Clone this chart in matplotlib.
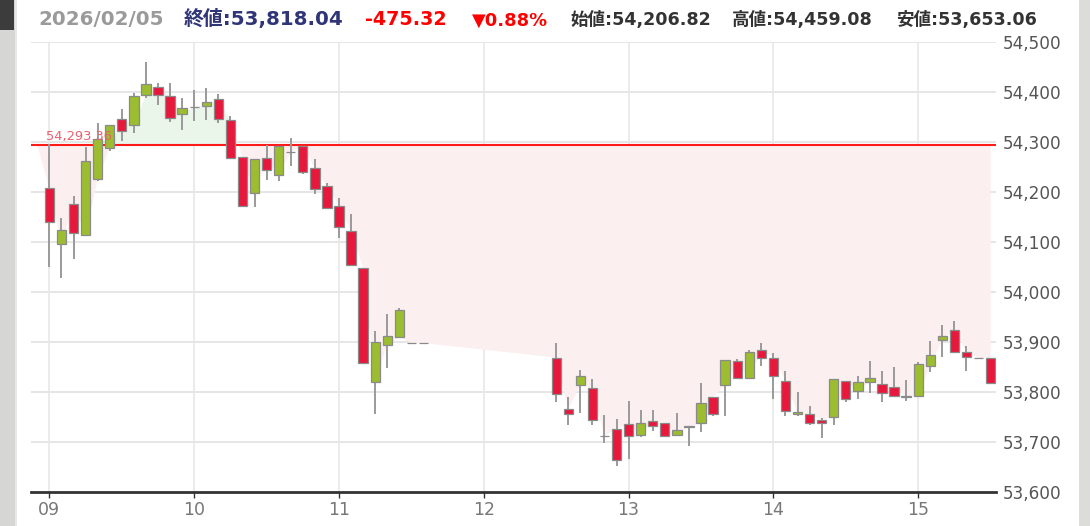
import matplotlib
matplotlib.use("Agg")
import matplotlib.pyplot as plt
from matplotlib.patches import Rectangle
from matplotlib.ticker import FuncFormatter

# ---------------- data ----------------
# minutes after 09:00 for each 5-minute candle
times = list(range(0, 150, 5)) + [150, 155] + list(range(210, 395, 5))

opens = [54206.82, 54096, 54175, 54114, 54225, 54288, 54345, 54333, 54393, 54409,
         54391, 54355, 54369, 54372, 54385, 54343, 54270, 54198, 54267, 54234,
         54279, 54291, 54247, 54211, 54172, 54121, 54048, 53820, 53895, 53910,
         53898, 53898,
         53869, 53767, 53814, 53809, 53712, 53727, 53737, 53715, 53743, 53739,
         53715, 53730, 53739, 53791, 53814, 53863, 53829, 53884, 53869, 53823,
         53757, 53757, 53745, 53751, 53823, 53803, 53821, 53817, 53811, 53790,
         53793, 53853, 53904, 53925, 53881, 53868, 53869]
highs = [54295, 54148, 54191, 54290, 54338, 54334, 54366, 54398, 54459.08, 54418,
         54418, 54388, 54403, 54407, 54395, 54352, 54270, 54265, 54293, 54292,
         54307, 54291, 54265, 54217, 54188, 54155, 54048, 53923, 53956, 53968,
         53898, 53898,
         53899, 53791, 53845, 53827, 53755, 53747, 53783, 53765, 53765, 53739,
         53759, 53733, 53819, 53791, 53865, 53867, 53885, 53899, 53879, 53843,
         53801, 53773, 53749, 53826, 53823, 53833, 53863, 53842, 53851, 53824,
         53860, 53902, 53935, 53943, 53893, 53868, 53869]
lows = [54050, 54029, 54065, 54112, 54221, 54281, 54302, 54317, 54388, 54374,
        54340, 54323, 54341, 54344, 54338, 54267, 54171, 54170, 54224, 54221,
        54251, 54236, 54195, 54165, 54108, 54053, 53859, 53757, 53849, 53910,
        53898, 53898,
        53780, 53735, 53759, 53735, 53699, 53653.06, 53667, 53710, 53723, 53712,
        53715, 53693, 53720, 53753, 53753, 53829, 53829, 53853, 53786, 53752,
        53752, 53734, 53708, 53735, 53781, 53786, 53798, 53780, 53790, 53783,
        53793, 53840, 53871, 53880, 53843, 53868, 53818.04]
closes = [54140, 54123, 54117, 54261, 54305, 54334, 54321, 54391, 54415, 54393,
          54348, 54367, 54370, 54379, 54345, 54267, 54171, 54265, 54243, 54291,
          54279, 54239, 54205, 54167, 54129, 54053, 53859, 53901, 53913, 53965,
          53898, 53898,
          53796, 53757, 53833, 53745, 53712, 53664, 53712, 53739, 53733, 53712,
          53725, 53733, 53779, 53757, 53865, 53829, 53881, 53869, 53832, 53763,
          53761, 53739, 53739, 53826, 53787, 53821, 53829, 53799, 53793, 53793,
          53857, 53875, 53913, 53880, 53871, 53868, 53818.04]

prev_close = 54293.36
hour_ticks = [0, 60, 120, 180, 240, 300, 360]
hour_labels = ["09", "10", "11", "12", "13", "14", "15"]
y_ticks = list(range(53600, 54501, 100))

header_date = "2026/02/05"
header_close = "終値:53,818.04"
header_change = "-475.32"
header_pct = "▼0.88%"
header_open = "始値:54,206.82"
header_high = "高値:54,459.08"
header_low = "安値:53,653.06"

# ---------------- figure ----------------
W, H = 1090, 526
fig = plt.figure(figsize=(W / 100, H / 100), dpi=100)
fig.patch.set_facecolor("white")

# side strips (screenshot surroundings)
fig.patches.append(Rectangle((0, 0), 15 / W, 1, transform=fig.transFigure,
                             facecolor="#d6d6d4", edgecolor="none", zorder=0))
fig.patches.append(Rectangle((0, 1 - 30 / H), 14 / W, 30 / H, transform=fig.transFigure,
                             facecolor="#3c3c3c", edgecolor="none", zorder=0))
fig.patches.append(Rectangle((15 / W, 0), 1.5 / W, 1, transform=fig.transFigure,
                             facecolor="#e8e8e6", edgecolor="none", zorder=0))
fig.patches.append(Rectangle((1079 / W, 0), 11 / W, 1, transform=fig.transFigure,
                             facecolor="#dcdcda", edgecolor="none", zorder=0))

ax_left, ax_right, ax_top, ax_bot = 31, 996, 41.7, 492.3
ax = fig.add_axes([ax_left / W, (H - ax_bot) / H, (ax_right - ax_left) / W, (ax_bot - ax_top) / H])
ax.set_facecolor("none")

px_per_min = 144.8 / 60.0
x0 = 49.4
ax.set_xlim((ax_left - x0) / px_per_min, (ax_right - x0) / px_per_min)
ax.set_ylim(53600, 54500)

# grid
for yv in y_ticks[1:]:
    ax.axhline(yv, color="#e4e4e4", lw=1.3, zorder=0)
for xv in hour_ticks:
    ax.axvline(xv, color="#e8e8e8", lw=1.2, zorder=0)

# area following open prices vs previous close
area_x = [-5] + times
area_y = [prev_close] + opens
ax.fill_between(area_x, area_y, prev_close, where=[v >= prev_close for v in area_y],
                interpolate=True, color="#eaf6ea", lw=0, zorder=1)
ax.fill_between(area_x, area_y, prev_close, where=[v <= prev_close for v in area_y],
                interpolate=True, color="#fcefef", lw=0, zorder=1)

# previous close line
ax.axhline(prev_close, color="#ff1a1a", lw=1.5, zorder=2)
ax.text((46 - x0) / px_per_min, 54500 - (140 - ax_top) * 2, "54,293.36",
        color="#e8606e", fontsize=9.4, ha="left", va="baseline", zorder=6)

# candles
body_w = 3.87
red_c, green_c = "#e8173c", "#9bbd2f"
for t, o, h, l, c in zip(times, opens, highs, lows, closes):
    ax.vlines(t, l, h, color="#9a9a9a", lw=1.4, zorder=3)
    col = green_c if c >= o else red_c
    ax.bar(t, c - o, bottom=o, width=body_w, color=col, edgecolor="#8a8a8a",
           linewidth=0.9, zorder=4)

# axes styling
for s in ["top", "left", "right"]:
    ax.spines[s].set_visible(False)
ax.spines["bottom"].set_color("#333333")
ax.spines["bottom"].set_linewidth(2)
ax.spines["bottom"].set_zorder(5)

ax.set_xticks(hour_ticks)
ax.set_xticklabels(hour_labels, family=["Liberation Sans Narrow", "DejaVu Sans"])
ax.tick_params(axis="x", length=4, width=1, color="#333333", labelcolor="#777777",
               labelsize=12.5, pad=2)

ax.yaxis.tick_right()
ax.set_yticks(y_ticks)
ax.yaxis.set_major_formatter(FuncFormatter(lambda v, p: f"{int(v):,}"))
ax.tick_params(axis="y", length=0, pad=5, labelsize=12.2, labelcolor="#555555")
ax.grid(False)

# header texts, each fitted to its measured span
fig.canvas.draw()
renderer = fig.canvas.get_renderer()
fam = ["DejaVu Sans", "Noto Sans CJK JP"]


def fit_text(x_start, x_end, s, color, base=14):
    t = fig.text(x_start / W, 1 - 25.5 / H, s, color=color, fontsize=base,
                 fontweight="bold", family=fam, ha="left", va="baseline")
    w = t.get_window_extent(renderer=renderer).width
    t.set_fontsize(base * (x_end - x_start) / w)
    return t


fit_text(38, 163, header_date, "#9a9a9a")
fit_text(184, 344, header_close, "#2f3577")
fit_text(365, 447, header_change, "#ff0000")
fit_text(472, 548, header_pct, "#ff0000")
fit_text(570, 711, header_open, "#333333")
fit_text(732, 873, header_high, "#333333")
fit_text(896, 1037, header_low, "#333333")

fig.savefig("out.png", dpi=100)
